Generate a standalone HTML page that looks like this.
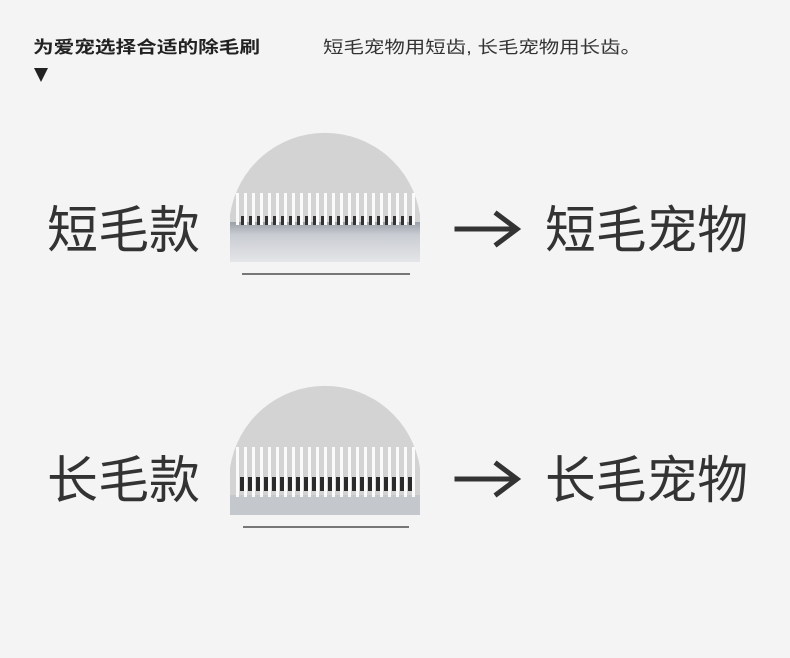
<!DOCTYPE html>
<html><head><meta charset="utf-8"><style>
html,body{margin:0;padding:0;background:#f4f4f4;}
svg{display:block}
text{font-family:"Liberation Sans","Noto Sans CJK SC",sans-serif;fill:#333}
</style></head><body>
<svg width="790" height="658" viewBox="0 0 790 658" xmlns="http://www.w3.org/2000/svg">
<defs>
<linearGradient id="body1" x1="0" y1="0" x2="0" y2="1">
<stop offset="0" stop-color="#9aa0a8"/><stop offset="0.3" stop-color="#c9ccd2"/><stop offset="1" stop-color="#e6e7ea"/>
</linearGradient>
<clipPath id="c1"><path d="M230 262 L230 215 A96 96 0 0 1 420 215 L420 262 Z"/></clipPath>
<clipPath id="c2"><path d="M230 515 L230 468 A96 96 0 0 1 420 468 L420 515 Z"/></clipPath>
</defs>
<rect width="790" height="658" fill="#f4f4f4"/>
<text x="33" y="53" font-size="17" font-weight="bold" textLength="227" lengthAdjust="spacingAndGlyphs" style="fill:#222">为爱宠选择合适的除毛刷</text>
<text x="323" y="53" font-size="17" textLength="318" lengthAdjust="spacingAndGlyphs">短毛宠物用短齿, 长毛宠物用长齿。</text>
<polygon points="34,68 48,68 41,82" fill="#222"/>

<!-- comb 1 -->
<g clip-path="url(#c1)">
<rect x="220" y="120" width="210" height="150" fill="#d3d3d3"/>
<rect x="220" y="222" width="210" height="42" fill="url(#body1)"/>
<g id="t1">
</g>
</g>
<g fill="#f6f6f6">
<script></script>
</g>
<!-- teeth 1 -->
<g>
<g fill="#fafafa">
<rect x="236" y="193" width="3" height="32"/><rect x="244" y="193" width="3" height="32"/><rect x="252" y="193" width="3" height="32"/><rect x="260" y="193" width="3" height="32"/><rect x="268" y="193" width="3" height="32"/><rect x="276" y="193" width="3" height="32"/><rect x="284" y="193" width="3" height="32"/><rect x="292" y="193" width="3" height="32"/><rect x="300" y="193" width="3" height="32"/><rect x="308" y="193" width="3" height="32"/><rect x="316" y="193" width="3" height="32"/><rect x="324" y="193" width="3" height="32"/><rect x="332" y="193" width="3" height="32"/><rect x="340" y="193" width="3" height="32"/><rect x="348" y="193" width="3" height="32"/><rect x="356" y="193" width="3" height="32"/><rect x="364" y="193" width="3" height="32"/><rect x="372" y="193" width="3" height="32"/><rect x="380" y="193" width="3" height="32"/><rect x="388" y="193" width="3" height="32"/><rect x="396" y="193" width="3" height="32"/><rect x="404" y="193" width="3" height="32"/><rect x="412" y="193" width="3" height="32"/>
</g>
<g fill="#333">
<rect x="241" y="216" width="3" height="9"/><rect x="249" y="216" width="3" height="9"/><rect x="257" y="216" width="3" height="9"/><rect x="265" y="216" width="3" height="9"/><rect x="273" y="216" width="3" height="9"/><rect x="281" y="216" width="3" height="9"/><rect x="289" y="216" width="3" height="9"/><rect x="297" y="216" width="3" height="9"/><rect x="305" y="216" width="3" height="9"/><rect x="313" y="216" width="3" height="9"/><rect x="321" y="216" width="3" height="9"/><rect x="329" y="216" width="3" height="9"/><rect x="337" y="216" width="3" height="9"/><rect x="345" y="216" width="3" height="9"/><rect x="353" y="216" width="3" height="9"/><rect x="361" y="216" width="3" height="9"/><rect x="369" y="216" width="3" height="9"/><rect x="377" y="216" width="3" height="9"/><rect x="385" y="216" width="3" height="9"/><rect x="393" y="216" width="3" height="9"/><rect x="401" y="216" width="3" height="9"/><rect x="409" y="216" width="3" height="9"/>
</g>
</g>
<rect x="242" y="273" width="168" height="2" fill="#777"/>

<!-- comb 2 -->
<g clip-path="url(#c2)">
<rect x="220" y="370" width="210" height="150" fill="#d3d3d3"/>
<rect x="220" y="495" width="210" height="22" fill="#c4c7cc"/>
</g>
<g fill="#fafafa">
<rect x="236" y="447" width="3" height="50"/><rect x="244" y="447" width="3" height="50"/><rect x="252" y="447" width="3" height="50"/><rect x="260" y="447" width="3" height="50"/><rect x="268" y="447" width="3" height="50"/><rect x="276" y="447" width="3" height="50"/><rect x="284" y="447" width="3" height="50"/><rect x="292" y="447" width="3" height="50"/><rect x="300" y="447" width="3" height="50"/><rect x="308" y="447" width="3" height="50"/><rect x="316" y="447" width="3" height="50"/><rect x="324" y="447" width="3" height="50"/><rect x="332" y="447" width="3" height="50"/><rect x="340" y="447" width="3" height="50"/><rect x="348" y="447" width="3" height="50"/><rect x="356" y="447" width="3" height="50"/><rect x="364" y="447" width="3" height="50"/><rect x="372" y="447" width="3" height="50"/><rect x="380" y="447" width="3" height="50"/><rect x="388" y="447" width="3" height="50"/><rect x="396" y="447" width="3" height="50"/><rect x="404" y="447" width="3" height="50"/><rect x="412" y="447" width="3" height="50"/>
</g>
<g fill="#2a2a2a">
<rect x="240" y="477" width="4" height="14"/><rect x="248" y="477" width="4" height="14"/><rect x="256" y="477" width="4" height="14"/><rect x="264" y="477" width="4" height="14"/><rect x="272" y="477" width="4" height="14"/><rect x="280" y="477" width="4" height="14"/><rect x="288" y="477" width="4" height="14"/><rect x="296" y="477" width="4" height="14"/><rect x="304" y="477" width="4" height="14"/><rect x="312" y="477" width="4" height="14"/><rect x="320" y="477" width="4" height="14"/><rect x="328" y="477" width="4" height="14"/><rect x="336" y="477" width="4" height="14"/><rect x="344" y="477" width="4" height="14"/><rect x="352" y="477" width="4" height="14"/><rect x="360" y="477" width="4" height="14"/><rect x="368" y="477" width="4" height="14"/><rect x="376" y="477" width="4" height="14"/><rect x="384" y="477" width="4" height="14"/><rect x="392" y="477" width="4" height="14"/><rect x="400" y="477" width="4" height="14"/><rect x="408" y="477" width="4" height="14"/>
</g>
<rect x="243" y="526" width="166" height="2" fill="#777"/>

<!-- labels -->
<text x="47" y="248" font-size="51" textLength="153" lengthAdjust="spacingAndGlyphs">短毛款</text>
<text x="545" y="248" font-size="51" textLength="203" lengthAdjust="spacingAndGlyphs">短毛宠物</text>
<text x="47" y="498" font-size="51" textLength="153" lengthAdjust="spacingAndGlyphs">长毛款</text>
<text x="545" y="498" font-size="51" textLength="203" lengthAdjust="spacingAndGlyphs">长毛宠物</text>

<!-- arrows -->
<g stroke="#333" stroke-width="5" fill="none" stroke-linecap="square">
<line x1="457" y1="229" x2="515" y2="229"/><polyline points="497,214 517,229 497,244"/>
<line x1="457" y1="479" x2="515" y2="479"/><polyline points="497,464 517,479 497,494"/>
</g>
</svg>
</body></html>
